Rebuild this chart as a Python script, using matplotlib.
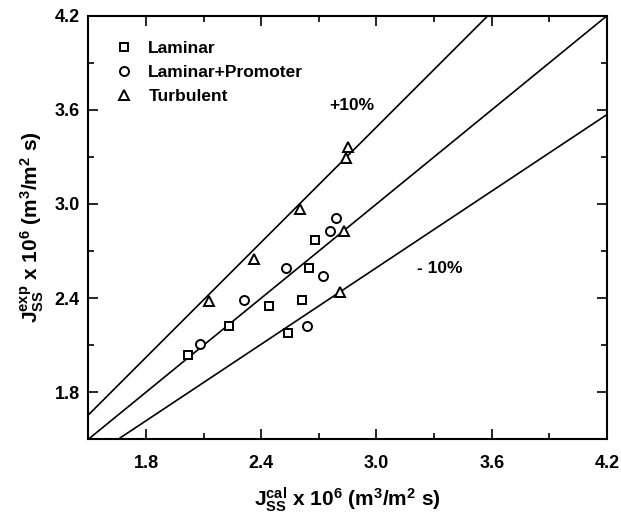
import matplotlib
matplotlib.use("Agg")
import matplotlib.pyplot as plt
from matplotlib.ticker import MultipleLocator

plt.rcParams["font.family"] = ["Liberation Sans", "DejaVu Sans"]
plt.rcParams["font.weight"] = "bold"
plt.rcParams["mathtext.fontset"] = "custom"
plt.rcParams["mathtext.rm"] = "Liberation Sans:bold"
plt.rcParams["mathtext.bf"] = "Liberation Sans:bold"
plt.rcParams["mathtext.it"] = "Liberation Sans:bold"

# dados (J_cal, J_exp)
laminar_cal = [2.02, 2.23, 2.44, 2.54, 2.61, 2.65, 2.68]
laminar_exp = [2.04, 2.22, 2.35, 2.18, 2.39, 2.59, 2.77]
promoter_cal = [2.08, 2.31, 2.53, 2.64, 2.72, 2.76, 2.79]
promoter_exp = [2.11, 2.39, 2.59, 2.22, 2.54, 2.83, 2.91]
turbulent_cal = [2.13, 2.36, 2.60, 2.81, 2.83, 2.84, 2.85]
turbulent_exp = [2.38, 2.65, 2.97, 2.44, 2.83, 3.29, 3.36]

# retas de referência (extremos)
line_mid_x, line_mid_y = [1.5, 4.2], [1.5, 4.2]
line_up_x, line_up_y = [1.5, 3.58], [1.655, 4.2]
line_lo_x, line_lo_y = [1.655, 4.2], [1.5, 3.57]

ticks = [1.8, 2.4, 3.0, 3.6, 4.2]

fig = plt.figure(figsize=(6.21, 5.15), dpi=100)
ax = fig.add_axes([0.1422, 0.147, 0.8353, 0.8225])

for lx, ly in [(line_up_x, line_up_y), (line_mid_x, line_mid_y), (line_lo_x, line_lo_y)]:
    ax.plot(lx, ly, color="black", lw=1.2)

mk = dict(linestyle="none", mfc="white", mec="black", mew=1.4, color="black")
ax.plot(laminar_cal, laminar_exp, marker="s", ms=5.6, label="Laminar", **mk)
ax.plot(promoter_cal, promoter_exp, marker="o", ms=6.5, label="Laminar+Promoter", **mk)
ax.plot(turbulent_cal, turbulent_exp, marker="^", ms=7, label="Turbulent", **mk)

ax.text(2.87, 3.63, "+10%", fontsize=12.5, fontweight="bold", ha="center", va="center")
ax.text(3.33, 2.59, "- 10%", fontsize=12.5, fontweight="bold", ha="center", va="center")

ax.set_xlim(1.5, 4.2)
ax.set_ylim(1.5, 4.2)
ax.set_xticks(ticks)
ax.set_yticks(ticks)
ax.xaxis.set_minor_locator(MultipleLocator(0.3))
ax.yaxis.set_minor_locator(MultipleLocator(0.3))
ax.xaxis.set_major_formatter(lambda v, p: f"{v:.1f}")
ax.yaxis.set_major_formatter(lambda v, p: f"{v:.1f}")

ax.tick_params(which="both", direction="in", top=True, right=True, labelsize=13, width=1.2)
ax.tick_params(which="major", length=7)
ax.tick_params(which="minor", length=4)
ax.tick_params(axis="x", pad=11)
ax.tick_params(axis="y", pad=6)
for lab in ax.get_xticklabels() + ax.get_yticklabels():
    lab.set_fontweight("bold")
for s in ax.spines.values():
    s.set_linewidth(1.5)

ax.set_xlabel(r"J$_{\mathrm{SS}}^{\mathrm{cal}}$ x 10$^6$ (m$^3$/m$^2$ s)", fontsize=15, fontweight="bold", labelpad=10)
ax.set_ylabel(r"J$_{\mathrm{SS}}^{\mathrm{exp}}$ x 10$^6$ (m$^3$/m$^2$ s)", fontsize=15, fontweight="bold", labelpad=6)

leg = ax.legend(loc="upper left", frameon=False, fontsize=12.5, handlelength=1.0,
                handletextpad=0.9, borderpad=0, borderaxespad=0, labelspacing=0.5,
                bbox_to_anchor=(0.052, 0.94))
for t in leg.get_texts():
    t.set_fontweight("bold")

fig.savefig("out.png", dpi=100)
